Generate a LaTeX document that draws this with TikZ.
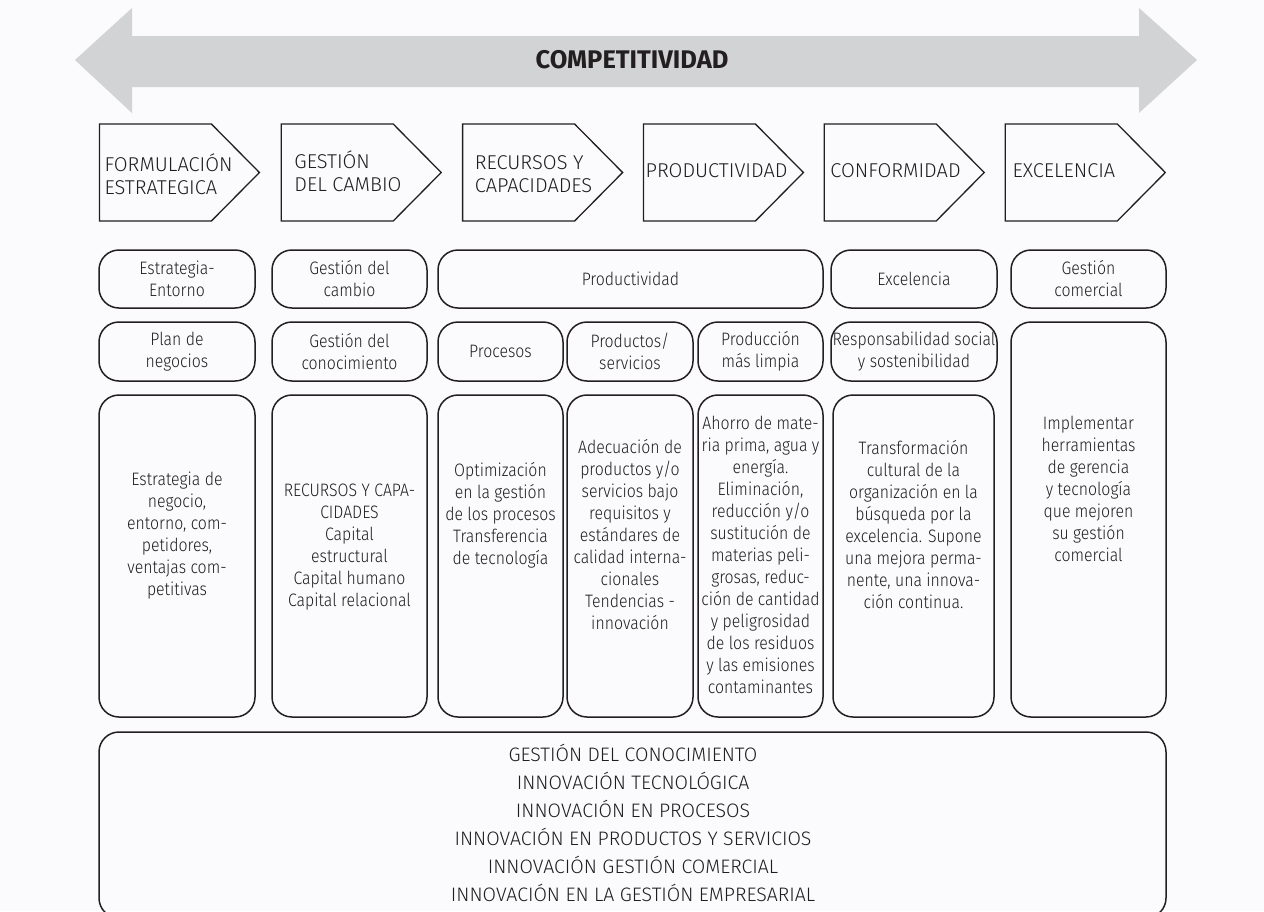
\documentclass[tikz,border=0pt]{standalone}
\usepackage{fontspec}
\setmainfont{Fira Sans Light}
\newfontfamily\bodyf{Fira Sans Light}[FakeStretch=0.88]
\newfontfamily\headf{Fira Sans Light}
\newfontfamily\capsf{Fira Sans Light}
\newfontfamily\titlef{Fira Sans}
\definecolor{ink}{HTML}{231F20}
\definecolor{txt}{HTML}{1E1E1E}
\definecolor{band}{HTML}{D1D3D4}
\definecolor{paper}{HTML}{FBFAFD}
\tikzset{
  outline/.style={draw=ink, line width=1.5pt},
  rbox/.style={outline, rounded corners=20pt, inner sep=0pt},
  body/.style={font=\bodyf\fontsize{18}{22}\selectfont, text=txt, align=center, inner sep=0pt},
  chevtext/.style={font=\headf\fontsize{20}{23.5}\selectfont, text=txt, align=left, inner sep=0pt, anchor=west},
  base/.style={font=\capsf\fontsize{19.5}{28}\selectfont, text=txt, align=center, inner sep=0pt}
}
\begin{document}
\begin{tikzpicture}[x=1pt,y=-1pt]
\fill[paper] (0,0) rectangle (1264,911);
\useasboundingbox (0,0) rectangle (1264,911);
\clip (0,0) rectangle (1264,911);

% double-headed band
\fill[band] (75,60) -- (132,8) -- (132,36) -- (1139,36) -- (1139,8) -- (1197,60)
  -- (1139,113) -- (1139,87) -- (132,87) -- (132,113) -- cycle;
\node[font=\titlef\bfseries\fontsize{25.5}{28}\selectfont, text=ink, inner sep=0pt] (comp) at (632,60) {COMPETITIVIDAD};

% stage chevrons
\draw[outline, line width=1.3pt] (99.4,124) -- ++(112,0) -- ++(48,48.5) -- ++(-48,48.5) -- ++(-112,0) -- cycle;
\draw[outline, line width=1.3pt] (281.2,124) -- ++(112,0) -- ++(48,48.5) -- ++(-48,48.5) -- ++(-112,0) -- cycle;
\draw[outline, line width=1.3pt] (462.6,124) -- ++(112,0) -- ++(48,48.5) -- ++(-48,48.5) -- ++(-112,0) -- cycle;
\draw[outline, line width=1.3pt] (643.4,124) -- ++(112,0) -- ++(48,48.5) -- ++(-48,48.5) -- ++(-112,0) -- cycle;
\draw[outline, line width=1.3pt] (824.2,124) -- ++(112,0) -- ++(48,48.5) -- ++(-48,48.5) -- ++(-112,0) -- cycle;
\draw[outline, line width=1.3pt] (1005.3,124) -- ++(112,0) -- ++(48,48.5) -- ++(-48,48.5) -- ++(-112,0) -- cycle;
\node[chevtext] (c1) at (104.4,174) {FORMULACIÓN\\ESTRATEGICA};
\node[chevtext] (c2) at (294.2,171) {GESTIÓN\\DEL CAMBIO};
\node[chevtext] (c3) at (474.6,174) {RECURSOS Y\\CAPACIDADES};
\node[chevtext] (c4) at (645.4,171) {PRODUCTIVIDAD};
\node[chevtext] (c5) at (830.2,171) {CONFORMIDAD};
\node[chevtext] (c6) at (1012.3,171) {EXCELENCIA};

% first row of themes
\node[rbox, body, minimum width=156pt, minimum height=58pt] (r1a) at (177,279) {Estrategia-\\Entorno};
\node[rbox, body, minimum width=155pt, minimum height=58pt] (r1b) at (349.5,279) {Gestión del\\cambio};
\node[rbox, body, minimum width=385pt, minimum height=58pt] (r1c) at (630.5,279) {Productividad};
\node[rbox, body, minimum width=166pt, minimum height=58pt] (r1d) at (914,279) {Excelencia};
\node[rbox, body, minimum width=155pt, minimum height=58pt] (r1e) at (1088.5,279) {Gestión\\comercial};

% second row of themes
\node[rbox, body, minimum width=156pt, minimum height=59pt] (r2a) at (177,351.5) {Plan de\\negocios};
\node[rbox, body, minimum width=155pt, minimum height=59pt] (r2b) at (349.5,351.5) {Gestión del\\conocimiento};
\node[rbox, body, minimum width=125pt, minimum height=59pt] (r2c) at (500.5,351.5) {Procesos};
\node[rbox, body, minimum width=126pt, minimum height=59pt] (r2d) at (630,351.5) {Productos/\\servicios};
\node[rbox, body, minimum width=125pt, minimum height=59pt] (r2e) at (760.5,351.5) {Producción\\más limpia};
\node[rbox, body, minimum width=166pt, minimum height=59pt] (r2f) at (914,351.5) {Responsabilidad social\\y sostenibilidad};

% detail columns
\node[rbox, minimum width=156pt, minimum height=322pt] (bA) at (177,556) {};
\node[rbox, minimum width=155pt, minimum height=322pt] (bB) at (349.5,556) {};
\node[rbox, minimum width=125pt, minimum height=322pt] (bC) at (500.5,556) {};
\node[rbox, minimum width=126pt, minimum height=322pt] (bD) at (630,556) {};
\node[rbox, minimum width=125pt, minimum height=322pt] (bE) at (760.5,556) {};
\node[rbox, minimum width=161pt, minimum height=322pt] (bF) at (913.5,556) {};
\node[rbox, minimum width=155pt, minimum height=395pt] (bG) at (1088.5,519.5) {};

\node[body] (tA) at (177,536) {Estrategia de\\negocio,\\entorno, com-\\petidores,\\ventajas com-\\petitivas};
\node[body] (tB) at (349.5,547) {RECURSOS Y CAPA-\\CIDADES\\Capital\\estructural\\Capital humano\\Capital relacional};
\node[body] (tC) at (500.5,515) {Optimización\\en la gestión\\de los procesos\\Transferencia\\de tecnología};
\node[body] (tD) at (630,535) {Adecuación de\\productos y/o\\servicios bajo\\requisitos y\\estándares de\\calidad interna-\\cionales\\Tendencias -\\innovación};
\node[body] (tE) at (760.5,555) {Ahorro de mate-\\ria prima, agua y\\energía.\\Eliminación,\\reducción y/o\\sustitución de\\materias peli-\\grosas, reduc-\\ción de cantidad\\y peligrosidad\\de los residuos\\y las emisiones\\contaminantes};
\node[body] (tF) at (913.5,525) {Transformación\\cultural de la\\organización en la\\búsqueda por la\\excelencia. Supone\\una mejora perma-\\nente, una innova-\\ción continua.};
\node[body] (tG) at (1088.5,489) {Implementar\\herramientas\\de gerencia\\y tecnología\\que mejoren\\su gestión\\comercial};

% base of cross-cutting capabilities
\node[rbox, minimum width=1067pt, minimum height=186pt] (base) at (632.5,825) {};
\node[base] (tbase) at (633,823) {GESTIÓN DEL CONOCIMIENTO\\INNOVACIÓN TECNOLÓGICA\\INNOVACIÓN EN PROCESOS\\INNOVACIÓN EN PRODUCTOS Y SERVICIOS\\INNOVACIÓN GESTIÓN COMERCIAL\\INNOVACIÓN EN LA GESTIÓN EMPRESARIAL};
\end{tikzpicture}
\end{document}
